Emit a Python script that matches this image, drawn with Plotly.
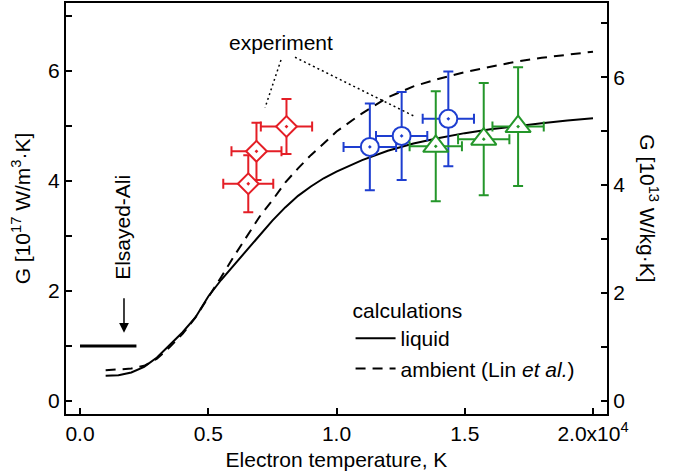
import plotly.graph_objects as go

FONT = "Liberation Sans, Arial, Helvetica, sans-serif"
FS = 21

# ---- calculations (G in 1e17 W/m^3 K) ----
T_calc = [1000, 1500, 2000, 2500, 3000, 3500, 4000, 4500, 5000, 5500, 6000, 6500,
          7000, 7500, 8000, 8500, 9000, 9500, 10000, 11000, 12000, 13000, 14000,
          15000, 16000, 17000, 18000, 19000, 20000]
G_liquid = [0.46, 0.47, 0.52, 0.62, 0.79, 1.02, 1.25, 1.52, 1.90, 2.20, 2.47, 2.75,
            3.03, 3.28, 3.52, 3.73, 3.90, 4.05, 4.17, 4.38, 4.55, 4.68, 4.78,
            4.87, 4.94, 5.00, 5.05, 5.10, 5.14]
G_ambient = [0.56, 0.57, 0.59, 0.64, 0.77, 0.98, 1.22, 1.52, 1.88, 2.25, 2.63, 2.99,
             3.35, 3.65, 3.97, 4.23, 4.47, 4.68, 4.90, 5.23, 5.52, 5.72, 5.86,
             5.98, 6.08, 6.17, 6.24, 6.30, 6.35]

# ---- Elsayed-Ali value ----
elsayed_T = [0, 2200]
elsayed_G = [1.0, 1.0]

# ---- experiment ----
red_T = [6560, 6880, 8050]
red_G = [3.95, 4.54, 4.99]
red_dT = [975, 975, 1000]
red_dG = [0.52, 0.52, 0.50]

blue_T = [11300, 12540, 14360]
blue_G = [4.62, 4.82, 5.13]
blue_dT = [1025, 1000, 1000]
blue_dG = [0.79, 0.80, 0.86]

green_T = [13870, 15740, 17080]
green_G = [4.63, 4.76, 4.99]
green_dT = [1020, 1000, 1000]
green_dG = [1.00, 1.02, 1.08]

x_tickvals = [0, 5000, 10000, 15000, 20000]
x_ticktext = ["0.0", "0.5", "1.0", "1.5", "2.0x10<sup>4</sup>"]

RED = "rgb(228,30,38)"
BLUE = "rgb(30,62,208)"
GREEN = "rgb(36,150,42)"

fig = go.Figure()

fig.add_trace(go.Scatter(x=T_calc, y=G_liquid, mode="lines", name="liquid",
                         line=dict(color="black", width=2)))
fig.add_trace(go.Scatter(x=T_calc, y=G_ambient, mode="lines",
                         name="ambient (Lin <i>et al.</i>)",
                         line=dict(color="black", width=2, dash="10px,7px")))
fig.add_trace(go.Scatter(x=elsayed_T, y=elsayed_G, mode="lines", showlegend=False,
                         line=dict(color="black", width=3)))


def exp_trace(xs, ys, dx, dy, color, symbol, size):
    return go.Scatter(
        x=xs, y=ys, mode="markers", showlegend=False,
        marker=dict(symbol=symbol, size=size, color="white",
                    line=dict(color=color, width=2)),
        error_x=dict(type="data", array=dx, color=color, thickness=2, width=5),
        error_y=dict(type="data", array=dy, color=color, thickness=2, width=5),
    )


fig.add_trace(exp_trace(red_T, red_G, red_dT, red_dG, RED, "diamond-dot", 16))
fig.add_trace(exp_trace(blue_T, blue_G, blue_dT, blue_dG, BLUE, "circle-dot", 18))
fig.add_trace(exp_trace(green_T, green_G, green_dT, green_dG, GREEN, "triangle-up-dot", 22))

# dummy trace to activate right axis
fig.add_trace(go.Scatter(x=[None], y=[None], yaxis="y2", showlegend=False,
                         hoverinfo="skip"))

# dotted pointer lines for "experiment"
fig.add_shape(type="line", x0=7836, y0=6.20, x1=7212, y1=5.33, xref="x", yref="y",
              line=dict(color="black", width=1.5, dash="2px,3px"))
fig.add_shape(type="line", x0=8382, y0=6.25, x1=13020, y1=5.18, xref="x", yref="y",
              line=dict(color="black", width=1.5, dash="2px,3px"))

fig.add_annotation(x=7817, y=6.51, text="experiment", showarrow=False,
                   font=dict(size=FS, family=FONT, color="black"))

fig.add_annotation(x=1680, y=3.15, text="Elsayed-Ali", showarrow=False,
                   textangle=-90, font=dict(size=FS, family=FONT, color="black"))
fig.add_annotation(x=1715, y=1.24, ax=0, ay=-36, text="", showarrow=True,
                   arrowhead=2, arrowsize=1.3, arrowwidth=1.5, arrowcolor="black")

fig.add_annotation(xref="paper", yref="paper", x=1.078, y=0.5,
                   xanchor="center", yanchor="middle",
                   text="G [10<sup>13</sup> W/kg·K]", showarrow=False, textangle=90,
                   font=dict(size=FS, family=FONT, color="black"))

axis_common = dict(showgrid=False, zeroline=False, showline=True, linecolor="black",
                   linewidth=2, ticks="inside", ticklen=6, tickwidth=1.5,
                   tickcolor="black", automargin=False,
                   tickfont=dict(size=FS, family=FONT, color="black"))

fig.update_layout(
    width=675, height=476,
    margin=dict(l=66, r=68, t=3, b=62, autoexpand=False),
    paper_bgcolor="white", plot_bgcolor="white",
    font=dict(family=FONT, size=FS, color="black"),
    xaxis=dict(range=[-546, 20546], tickvals=x_tickvals, ticktext=x_ticktext,
               mirror=True,
               title=dict(text="Electron temperature, K", standoff=8,
                          font=dict(size=FS, family=FONT)),
               **axis_common),
    yaxis=dict(range=[-0.236, 7.236], tickvals=[0, 2, 4, 6],
               minor=dict(tickvals=[1, 3, 5, 7], ticks="inside", ticklen=6,
                          tickwidth=1.5, tickcolor="black"),
               title=dict(text="G [10<sup>17</sup> W/m<sup>3</sup>·K]", standoff=12,
                          font=dict(size=FS, family=FONT)),
               **axis_common),
    yaxis2=dict(range=[-0.247, 7.38], overlaying="y", side="right",
                tickvals=[0, 2, 4, 6],
                minor=dict(tickvals=[1, 3, 5, 7], ticks="inside", ticklen=6,
                           tickwidth=1.5, tickcolor="black"),
                **axis_common),
    legend=dict(x=0.526, y=0.30, xanchor="left", yanchor="top",
                bgcolor="rgba(0,0,0,0)", font=dict(size=FS, family=FONT),
                title=dict(text="calculations", font=dict(size=FS, family=FONT)),
                tracegroupgap=0, itemwidth=40),
)

fig.write_html(
    "out.html",
    config={"displayModeBar": False},
    post_script="document.body.style.margin='0';document.body.style.overflow='hidden';",
)
